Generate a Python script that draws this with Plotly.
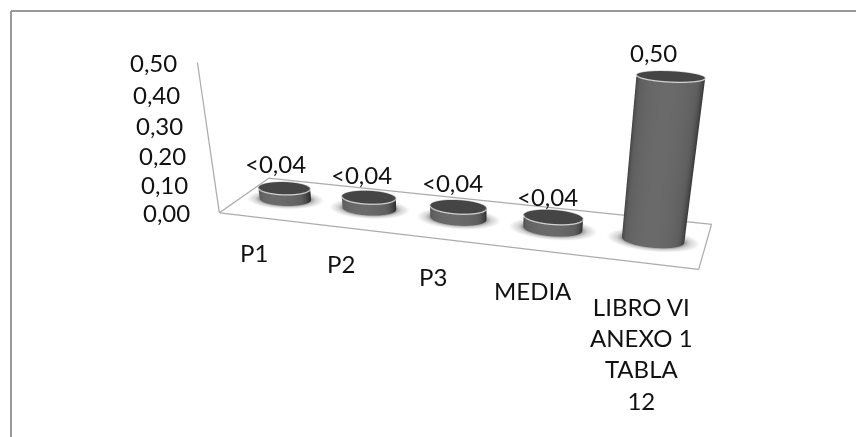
import numpy as np
import plotly.graph_objects as go

categories = ["P1", "P2", "P3", "MEDIA", "LIBRO VI<br>ANEXO 1<br>TABLA<br>12"]
values = [0.04, 0.04, 0.04, 0.04, 0.50]
value_labels = ["<0,04", "<0,04", "<0,04", "<0,04", "0,50"]
tick_vals = [0.0, 0.1, 0.2, 0.3, 0.4, 0.5]
tick_text = ["0,00", "0,10", "0,20", "0,30", "0,40", "0,50"]

W, H = 856, 800
X_MAX, Y_MAX, Z_MAX = len(categories), 1.0, 0.5
ASPECT = dict(x=3.0589, y=0.692, z=0.9535)
CAMERA = dict(eye=dict(x=1.8218, y=-5.5126, z=1.8237),
              center=dict(x=1.5256, y=-4.7202, z=1.2904),
              up=dict(x=-0.161, y=0.509, z=0.8456),
              projection=dict(type="perspective"))
R_X = 0.30
R_Y = 0.17
FONT = dict(family="Lato, Carlito, Calibri, sans-serif", size=24, color="#111111")
GRID = "#ababab"
CAT_XSHIFT = [-7, -7, -7, -6, -2]
CAT_YSHIFT = [-18, -19, -21, -23, -27]
VAL_XSHIFT = [-9, -7, -6, -6, -17]
VAL_YSHIFT = [8, 6, 8, 4, 8]

fig = go.Figure()
flat = dict(ambient=1, diffuse=0, specular=0, roughness=1, fresnel=0)
common = dict(showscale=False, hoverinfo="skip", lighting=flat)
th = np.linspace(0, 2 * np.pi, 73)

for i, v in enumerate(values):
    cx, cy = i + 0.5, Y_MAX / 2
    rr = np.linspace(0.85, 1.5, 14)
    T, Rr = np.meshgrid(th, rr)
    fig.add_trace(go.Surface(x=cx + R_X * Rr * np.cos(T), y=cy + R_Y * Rr * np.sin(T), z=np.zeros_like(T),
                             surfacecolor=Rr, cmin=0.95, cmax=1.5,
                             colorscale=[[0, "#8f8f8f"], [0.4, "#d4d4d4"], [1, "#ffffff"]], **common))
    T, Z = np.meshgrid(th, np.array([0.0, v]))
    shade = np.cos(T + np.pi / 2)
    fig.add_trace(go.Surface(x=cx + R_X * np.cos(T), y=cy + R_Y * np.sin(T), z=Z,
                             surfacecolor=shade, cmin=0, cmax=1,
                             colorscale=[[0, "#303030"], [0.55, "#5e5e5e"], [1, "#6a6a6a"]], **common))
    T, Rr = np.meshgrid(th, np.linspace(0, 1, 4))
    fig.add_trace(go.Surface(x=cx + R_X * Rr * np.cos(T), y=cy + R_Y * Rr * np.sin(T), z=np.full_like(T, v),
                             surfacecolor=np.ones_like(T), cmin=0, cmax=1,
                             colorscale=[[0, "#454545"], [1, "#454545"]], **common))
    fig.add_trace(go.Scatter3d(x=cx + R_X * np.cos(th), y=cy + R_Y * np.sin(th), z=np.full_like(th, v),
                               mode="lines", line=dict(color="#d4d4d4", width=2.5), hoverinfo="skip", showlegend=False))

fig.add_trace(go.Scatter3d(x=[0, X_MAX, X_MAX, 0, 0], y=[0, 0, Y_MAX, Y_MAX, 0], z=[0] * 5,
                           mode="lines", line=dict(color=GRID, width=2.5), hoverinfo="skip", showlegend=False))
fig.add_trace(go.Scatter3d(x=[0, 0], y=[0, 0], z=[0, Z_MAX],
                           mode="lines", line=dict(color=GRID, width=2.5), hoverinfo="skip", showlegend=False))

notes = []
for t, s in zip(tick_vals, tick_text):
    notes.append(dict(x=0, y=0, z=t, text=s, showarrow=False, xanchor="right", yanchor="middle",
                      xshift=-27 + 18 * t, font=FONT))
for i, (c, v, s) in enumerate(zip(categories, values, value_labels)):
    notes.append(dict(x=i + 0.5, y=0, z=0, text=c, showarrow=False, xanchor="center", yanchor="top",
                      xshift=CAT_XSHIFT[i], yshift=CAT_YSHIFT[i], font=FONT))
    notes.append(dict(x=i + 0.5, y=Y_MAX / 2, z=v, text=s, showarrow=False, xanchor="center", yanchor="bottom",
                      xshift=VAL_XSHIFT[i], yshift=VAL_YSHIFT[i], font=FONT))

hidden = dict(visible=False, showgrid=False, zeroline=False, showspikes=False)
fig.update_layout(
    width=W, height=H, margin=dict(l=0, r=0, t=0, b=0),
    paper_bgcolor="white", showlegend=False,
    scene=dict(domain=dict(x=[0, 1], y=[0, 1]), aspectmode="manual", aspectratio=ASPECT, camera=CAMERA,
               bgcolor="rgba(0,0,0,0)",
               xaxis=dict(range=[0, X_MAX], **hidden), yaxis=dict(range=[0, Y_MAX], **hidden),
               zaxis=dict(range=[0, Z_MAX], **hidden), annotations=notes),
    shapes=[dict(type="line", xref="paper", yref="paper", x0=11 / W, x1=1, y0=1 - 11 / H, y1=1 - 11 / H,
                 line=dict(color="#999999", width=2)),
            dict(type="line", xref="paper", yref="paper", x0=11 / W, x1=11 / W, y0=0, y1=1 - 11 / H,
                 line=dict(color="#999999", width=2))],
)
fig.write_html("out.html", config=dict(displayModeBar=False),
               post_script="document.documentElement.style.overflow='hidden';document.body.style.margin='0';document.body.style.overflow='hidden';")
